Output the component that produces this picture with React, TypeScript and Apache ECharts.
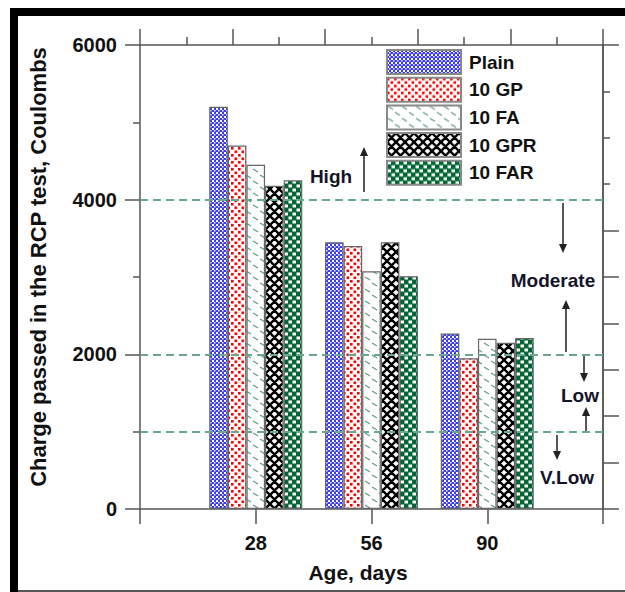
import React, { useEffect, useRef } from 'react';
import * as echarts from 'echarts';

// ---- data ----
const ages = ['28', '56', '90'];
const seriesNames = ['Plain', '10 GP', '10 FA', '10 GPR', '10 FAR'];
const plainValues = [5200, 3450, 2270];
const gpValues = [4700, 3400, 1950];
const faValues = [4450, 3075, 2200];
const gprValues = [4180, 3450, 2150];
const farValues = [4250, 3010, 2210];
const thresholds = [4000, 2000, 1000];
const rightLongTicks = [0, 600, 1200, 1800, 2400, 3000, 3600, 6000];
const rightShortTicks = [4200, 4800, 5400];

const FONT = "'Liberation Sans', Arial, Helvetica, sans-serif";

function tile(w: number, h: number, draw: (ctx: CanvasRenderingContext2D) => void) {
  const c = document.createElement('canvas');
  c.width = w;
  c.height = h;
  const ctx = c.getContext('2d') as CanvasRenderingContext2D;
  draw(ctx);
  return { image: c, repeat: 'repeat', imageWidth: w, imageHeight: h } as any;
}

function makePatterns() {
  const plain = tile(4, 4, (ctx) => {
    ctx.fillStyle = '#3a3aff';
    ctx.fillRect(0, 0, 4, 4);
    ctx.fillStyle = '#ffffff';
    ctx.fillRect(0, 0, 2, 2);
    ctx.fillRect(2, 2, 1.5, 1.5);
  });
  const gp = tile(7, 7, (ctx) => {
    ctx.fillStyle = '#ffffff';
    ctx.fillRect(0, 0, 7, 7);
    ctx.fillStyle = '#ff0000';
    ctx.fillRect(0, 0, 2.6, 2.6);
    ctx.fillRect(3.5, 3.5, 2.6, 2.6);
  });
  const fa = tile(14, 12, (ctx) => {
    ctx.fillStyle = '#ffffff';
    ctx.fillRect(0, 0, 14, 12);
    ctx.strokeStyle = '#5f9f7f';
    ctx.lineWidth = 1.3;
    ctx.beginPath();
    ctx.moveTo(1, 1);
    ctx.lineTo(6, 4);
    ctx.moveTo(8, 7);
    ctx.lineTo(13, 10);
    ctx.stroke();
  });
  const gpr = tile(9, 9, (ctx) => {
    ctx.fillStyle = '#ffffff';
    ctx.fillRect(0, 0, 9, 9);
    ctx.strokeStyle = '#000000';
    ctx.lineWidth = 2.4;
    ctx.beginPath();
    for (const o of [-9, 0, 9]) {
      ctx.moveTo(o - 1, -1);
      ctx.lineTo(o + 10, 10);
      ctx.moveTo(o + 10, -1);
      ctx.lineTo(o - 1, 10);
    }
    ctx.stroke();
  });
  const far = tile(8, 8, (ctx) => {
    ctx.fillStyle = '#006633';
    ctx.fillRect(0, 0, 8, 8);
    ctx.fillStyle = '#ffffff';
    ctx.fillRect(0.5, 0.5, 3.5, 3);
    ctx.fillRect(4.5, 4.5, 3.5, 3);
  });
  return [plain, gp, fa, gpr, far];
}

const arrow = (x: number, y1: number, y2: number) => {
  const dir = y2 > y1 ? 1 : -1;
  return {
    type: 'group',
    z: 100,
    children: [
      { type: 'line', shape: { x1: x, y1, x2: x, y2: y2 - dir * 5 }, style: { stroke: '#222', lineWidth: 1.5 } },
      {
        type: 'polygon',
        shape: { points: [[x - 4, y2 - dir * 9], [x + 4, y2 - dir * 9], [x, y2]] },
        style: { fill: '#222' },
      },
    ],
  };
};

const txt = (s: string, x: number, y: number, extra: any = {}) => ({
  type: 'text',
  x,
  y,
  z: 100,
  style: {
    text: s,
    fill: '#141428',
    font: `bold 19px ${FONT}`,
    align: 'center',
    verticalAlign: 'middle',
    ...extra,
  },
});

export default function App() {
  const ref = useRef<HTMLDivElement>(null);
  useEffect(() => {
    if (!ref.current) return;
    const chart = echarts.init(ref.current, undefined, { renderer: 'svg' });
    const patterns = makePatterns();
    const values = [plainValues, gpValues, faValues, gprValues, farValues];
    const axisLine = { color: '#555', width: 1.5 };
    const labelStyle = { fontSize: 20, fontWeight: 'bold', color: '#111', fontFamily: FONT };

    const series: any[] = seriesNames.map((name, i) => ({
      type: 'bar',
      name,
      xAxisIndex: 0,
      yAxisIndex: 0,
      data: ['-', ...values[i], '-'],
      barWidth: 18.6,
      barGap: '0%',
      itemStyle: { color: patterns[i], borderColor: '#666', borderWidth: 1.2 },
      ...(i === 0
        ? {
            markLine: {
              silent: true,
              symbol: ['none', 'none'],
              label: { show: false },
              lineStyle: { type: [8, 5], color: '#6aa88e', width: 2 },
              data: thresholds.map((v) => ({ yAxis: v })),
            },
          }
        : {}),
    }));

    chart.setOption({
      animation: false,
      backgroundColor: '#fff',
      grid: { left: 140, right: 22, top: 45, bottom: 83, containLabel: false },
      legend: {
        orient: 'vertical',
        left: 386,
        top: 49,
        padding: 0,
        itemWidth: 74,
        itemHeight: 24,
        itemGap: 1.7,
        icon: 'rect',
        selectedMode: false,
        data: seriesNames,
        itemStyle: { borderColor: '#888', borderWidth: 2 },
        textStyle: { fontSize: 19, fontWeight: 'bold', color: '#111', fontFamily: FONT, padding: [0, 0, 0, 3] },
      },
      xAxis: [
        {
          type: 'category',
          position: 'bottom',
          data: ['', ...ages, ''],
          boundaryGap: false,
          axisLine: { show: true, onZero: false, lineStyle: axisLine },
          axisTick: { show: true, length: 15, interval: 0, lineStyle: axisLine },
          axisLabel: { interval: 0, margin: 24, ...labelStyle },
          splitLine: { show: false },
        },
        {
          type: 'value',
          position: 'top',
          min: 0,
          max: 10,
          interval: 2,
          axisLine: { show: true, onZero: false, lineStyle: axisLine },
          axisTick: { show: true, length: 16, lineStyle: axisLine },
          minorTick: { show: true, splitNumber: 2, length: 8, lineStyle: axisLine },
          axisLabel: { show: false },
          splitLine: { show: false },
        },
      ],
      yAxis: [
        {
          type: 'value',
          position: 'left',
          min: 0,
          max: 6000,
          interval: 2000,
          axisLine: { show: true, onZero: false, lineStyle: axisLine },
          axisTick: { show: true, length: 15, lineStyle: axisLine },
          minorTick: { show: true, splitNumber: 2, length: 7, lineStyle: axisLine },
          axisLabel: { margin: 23, formatter: (v: number) => String(v), ...labelStyle },
          splitLine: { show: false },
        },
        {
          type: 'value',
          position: 'right',
          min: 0,
          max: 6000,
          interval: 600,
          axisLine: { show: true, onZero: false, lineStyle: axisLine },
          axisTick: { show: true, length: 16, customValues: rightLongTicks, lineStyle: axisLine },
          axisLabel: { show: false },
          splitLine: { show: false },
        },
        {
          type: 'value',
          position: 'right',
          min: 0,
          max: 6000,
          interval: 600,
          axisLine: { show: true, onZero: false, lineStyle: axisLine },
          axisTick: { show: true, length: 7, customValues: rightShortTicks, lineStyle: axisLine },
          axisLabel: { show: false },
          splitLine: { show: false },
        },
      ],
      series,
      graphic: [
        { type: 'rect', shape: { x: 10, y: 8, width: 615, height: 8 }, style: { fill: '#000' }, z: 100 },
        { type: 'rect', shape: { x: 10, y: 8, width: 8, height: 584 }, style: { fill: '#000' }, z: 100 },
        { type: 'line', shape: { x1: 18, y1: 591, x2: 625, y2: 591 }, style: { stroke: '#555', lineWidth: 2 }, z: 100 },
        {
          type: 'text',
          x: 38,
          y: 267,
          rotation: Math.PI / 2,
          z: 100,
          style: {
            text: 'Charge passed in the RCP test, Coulombs',
            fill: '#111',
            font: `bold 22px ${FONT}`,
            align: 'center',
            verticalAlign: 'middle',
          },
        },
        txt('Age, days', 358, 572, { font: `bold 21px ${FONT}`, fill: '#111' }),
        txt('High', 331, 176),
        txt('Moderate', 553, 280),
        txt('Low', 580, 395),
        txt('V.Low', 567, 477),
        arrow(364, 192, 147),
        arrow(563, 203, 253),
        arrow(566, 352, 300),
        arrow(584, 355, 382),
        arrow(586, 431, 407),
        arrow(557, 435, 460),
      ],
    });
    return () => chart.dispose();
  }, []);
  return (
    <div
      ref={ref}
      style={{ position: 'absolute', left: 0, top: 0, width: 625, height: 592, background: '#fff' }}
    />
  );
}
